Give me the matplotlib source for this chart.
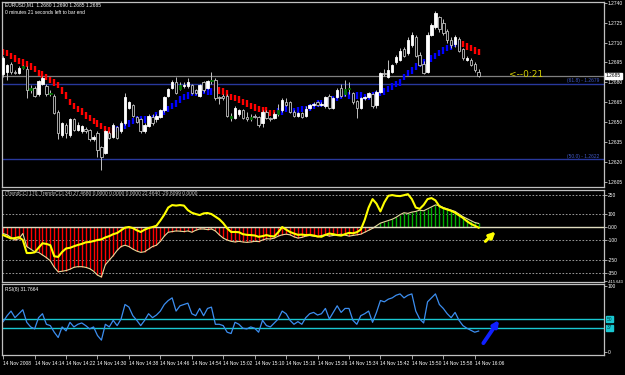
import matplotlib
matplotlib.use("Agg")
import matplotlib.pyplot as plt
import matplotlib.transforms as mtransforms
from matplotlib import font_manager

# EURUSD M1, 14 Nov 2008, one bar per minute from 14:06
opens = [1.2686, 1.2688, 1.2694, 1.2688, 1.2687, 1.2691, 1.2690, 1.2674, 1.2676, 1.2671,
         1.2679, 1.2677, 1.2671, 1.2670, 1.2658, 1.2640, 1.2648, 1.2640, 1.2652, 1.2644,
         1.2643, 1.2645, 1.2644, 1.2637, 1.2642, 1.2631, 1.2627, 1.2642, 1.2639, 1.2646,
         1.2643, 1.2649, 1.2661, 1.2663, 1.2654, 1.2652, 1.2643, 1.2647, 1.2654, 1.2652,
         1.2654, 1.2659, 1.2670, 1.2676, 1.2680, 1.2675, 1.2677, 1.2677, 1.2678, 1.2674,
         1.2670, 1.2680, 1.2676, 1.2681, 1.2682, 1.2669, 1.2670, 1.2670, 1.2655, 1.2653,
         1.2656, 1.2659, 1.2654, 1.2652, 1.2655, 1.2654, 1.2649, 1.2658, 1.2653, 1.2653,
         1.2656, 1.2659, 1.2665, 1.2665, 1.2658, 1.2655, 1.2657, 1.2655, 1.2661, 1.2663,
         1.2665, 1.2663, 1.2662, 1.2670, 1.2661, 1.2669, 1.2676, 1.2671, 1.2675, 1.2672,
         1.2666, 1.2661, 1.2668, 1.2669, 1.2671, 1.2663, 1.2673, 1.2687, 1.2684, 1.2688,
         1.2695, 1.2697, 1.2705, 1.2702, 1.2708, 1.2714, 1.2701, 1.2694, 1.2688, 1.2716,
         1.2722, 1.2729, 1.2725, 1.2719, 1.2712, 1.2709, 1.2713, 1.2705, 1.2697, 1.2697,
         1.2694, 1.2688]
highs = [1.2700, 1.2694, 1.2695, 1.2689, 1.2692, 1.2693, 1.2692, 1.2678, 1.2677, 1.2682,
         1.2685, 1.2679, 1.2674, 1.2671, 1.2659, 1.2650, 1.2649, 1.2653, 1.2653, 1.2650,
         1.2648, 1.2646, 1.2645, 1.2640, 1.2643, 1.2632, 1.2644, 1.2643, 1.2649, 1.2647,
         1.2651, 1.2672, 1.2666, 1.2664, 1.2655, 1.2653, 1.2649, 1.2656, 1.2656, 1.2656,
         1.2660, 1.2670, 1.2676, 1.2682, 1.2684, 1.2680, 1.2680, 1.2683, 1.2679, 1.2675,
         1.2679, 1.2681, 1.2682, 1.2688, 1.2683, 1.2670, 1.2671, 1.2671, 1.2657, 1.2662,
         1.2660, 1.2660, 1.2658, 1.2656, 1.2656, 1.2655, 1.2659, 1.2659, 1.2654, 1.2658,
         1.2664, 1.2668, 1.2668, 1.2666, 1.2659, 1.2658, 1.2658, 1.2662, 1.2664, 1.2665,
         1.2666, 1.2665, 1.2670, 1.2671, 1.2669, 1.2676, 1.2679, 1.2682, 1.2680, 1.2673,
         1.2667, 1.2669, 1.2670, 1.2673, 1.2672, 1.2674, 1.2688, 1.2690, 1.2697, 1.2694,
         1.2701, 1.2706, 1.2707, 1.2714, 1.2718, 1.2716, 1.2703, 1.2696, 1.2718, 1.2725,
         1.2734, 1.2730, 1.2728, 1.2720, 1.2714, 1.2716, 1.2714, 1.2706, 1.2700, 1.2698,
         1.2695, 1.2690]
lows = [1.2684, 1.2682, 1.2686, 1.2686, 1.2686, 1.2690, 1.2668, 1.2672, 1.2669, 1.2670,
        1.2678, 1.2670, 1.2670, 1.2656, 1.2637, 1.2639, 1.2638, 1.2639, 1.2643, 1.2643,
        1.2642, 1.2642, 1.2636, 1.2636, 1.2624, 1.2614, 1.2626, 1.2637, 1.2638, 1.2637,
        1.2642, 1.2648, 1.2660, 1.2654, 1.2649, 1.2642, 1.2642, 1.2646, 1.2648, 1.2650,
        1.2653, 1.2658, 1.2669, 1.2675, 1.2671, 1.2674, 1.2676, 1.2676, 1.2671, 1.2671,
        1.2669, 1.2673, 1.2675, 1.2679, 1.2667, 1.2664, 1.2667, 1.2654, 1.2651, 1.2652,
        1.2655, 1.2652, 1.2651, 1.2651, 1.2653, 1.2646, 1.2646, 1.2652, 1.2651, 1.2652,
        1.2655, 1.2658, 1.2662, 1.2657, 1.2654, 1.2654, 1.2653, 1.2654, 1.2660, 1.2662,
        1.2662, 1.2662, 1.2661, 1.2660, 1.2660, 1.2668, 1.2669, 1.2670, 1.2671, 1.2664,
        1.2653, 1.2660, 1.2667, 1.2668, 1.2661, 1.2661, 1.2672, 1.2685, 1.2683, 1.2687,
        1.2694, 1.2696, 1.2699, 1.2701, 1.2707, 1.2699, 1.2692, 1.2686, 1.2687, 1.2715,
        1.2720, 1.2718, 1.2716, 1.2710, 1.2706, 1.2707, 1.2703, 1.2697, 1.2696, 1.2692,
        1.2688, 1.2684]
closes = [1.2698, 1.2693, 1.2688, 1.2687, 1.2691, 1.2692, 1.2674, 1.2676, 1.2670, 1.2681,
          1.2683, 1.2671, 1.2672, 1.2657, 1.2642, 1.2649, 1.2642, 1.2652, 1.2644, 1.2648,
          1.2647, 1.2643, 1.2637, 1.2639, 1.2629, 1.2624, 1.2643, 1.2638, 1.2648, 1.2638,
          1.2649, 1.2669, 1.2665, 1.2655, 1.2650, 1.2643, 1.2648, 1.2655, 1.2649, 1.2655,
          1.2659, 1.2669, 1.2675, 1.2680, 1.2672, 1.2678, 1.2678, 1.2680, 1.2672, 1.2672,
          1.2678, 1.2674, 1.2681, 1.2682, 1.2668, 1.2668, 1.2668, 1.2655, 1.2653, 1.2661,
          1.2659, 1.2653, 1.2652, 1.2654, 1.2654, 1.2648, 1.2658, 1.2653, 1.2652, 1.2656,
          1.2659, 1.2667, 1.2663, 1.2658, 1.2655, 1.2657, 1.2654, 1.2660, 1.2663, 1.2664,
          1.2663, 1.2664, 1.2669, 1.2661, 1.2668, 1.2674, 1.2670, 1.2675, 1.2676, 1.2665,
          1.2661, 1.2668, 1.2669, 1.2672, 1.2662, 1.2673, 1.2687, 1.2686, 1.2689, 1.2693,
          1.2699, 1.2704, 1.2700, 1.2712, 1.2716, 1.2700, 1.2693, 1.2687, 1.2716, 1.2723,
          1.2732, 1.2720, 1.2717, 1.2712, 1.2708, 1.2714, 1.2704, 1.2698, 1.2698, 1.2693,
          1.2689, 1.2685]
green_bars = [5, 7, 12, 45, 53, 58, 63, 70, 87, 88]

# trend envelope: value per bar, runs of (length, direction)
trend = [1.2703, 1.2702, 1.2700, 1.2698, 1.2696, 1.2695, 1.2694, 1.2692, 1.2690, 1.2687,
         1.2686, 1.2684, 1.2682, 1.2680, 1.2678, 1.2674, 1.2670, 1.2665, 1.2662, 1.2660,
         1.2658, 1.2655, 1.2653, 1.2651, 1.2649, 1.2647, 1.2645, 1.2644, 1.2643,
         1.2645, 1.2646, 1.2647, 1.2649, 1.2651, 1.2652, 1.2652, 1.2652, 1.2652, 1.2653,
         1.2655, 1.2656, 1.2658, 1.2660, 1.2662, 1.2664, 1.2667, 1.2669, 1.2670, 1.2672,
         1.2672, 1.2674, 1.2674, 1.2673, 1.2673,
         1.2676, 1.2674, 1.2673, 1.2672, 1.2669, 1.2668, 1.2667, 1.2665, 1.2664, 1.2662,
         1.2661, 1.2660, 1.2659, 1.2659, 1.2657, 1.2657,
         1.2658, 1.2658, 1.2660, 1.2659, 1.2658, 1.2659, 1.2660, 1.2660, 1.2661, 1.2662,
         1.2664, 1.2664, 1.2664, 1.2666, 1.2667, 1.2668, 1.2670, 1.2671, 1.2670, 1.2669,
         1.2670, 1.2670, 1.2669, 1.2669, 1.2670, 1.2671, 1.2672, 1.2673, 1.2675, 1.2677,
         1.2679, 1.2680, 1.2684, 1.2687, 1.2689, 1.2692, 1.2694, 1.2695, 1.2697, 1.2698,
         1.2700, 1.2702, 1.2704, 1.2706, 1.2707, 1.2709, 1.2709,
         1.2709, 1.2707, 1.2706, 1.2704, 1.2703]
trend_runs = [(29, "down"), (25, "up"), (16, "down"), (47, "up"), (5, "down")]

# TrendCCI histogram and CCI line
trend_cci = [-50, -60, -80, -100, -90, -50, -150, -170, -190, -195,
             -215, -235, -260, -310, -345, -340, -335, -325, -310, -305,
             -305, -310, -320, -340, -370, -385, -290, -255, -220, -180,
             -150, -140, -150, -170, -185, -195, -190, -170, -150, -140,
             -110, -70, -40, -35, -30, -32, -35, -30, -40, -25,
             -15, -15, -20, -15, -30, -60, -85, -100, -110, -115,
             -110, -115, -118, -115, -110, -112, -100, -90, -92, -85,
             -70, -60, -55, -60, -75, -85, -80, -70, -65, -70,
             -75, -65, -60, -70, -65, -60, -55, -62, -70, -65,
             -60, -55, -40, -25, -10, 10, 30, 40, 50, 60,
             75, 95, 110, 105, 115, 120, 130, 125, 140, 155,
             170, 165, 150, 140, 130, 120, 100, 80, 65, 50,
             35, 27.5]
cci = [-62, -75, -88, -85, -78, -100, -200, -200, -195, -160,
       -125, -130, -140, -225, -230, -192, -165, -160, -148, -138,
       -130, -118, -115, -108, -100, -95, -80, -70, -55, -46,
       -25, -5, 0, -8, -25, -38, -20, -8, 0, 10,
       50, 95, 150, 169, 165, 169, 165, 130, 110, 100,
       92, 105, 108, 100, 80, 60, 30, -10, -38, -38,
       -40, -55, -60, -62, -65, -75, -70, -62, -70, -72,
       -40, 0, -20, -38, -50, -60, -58, -62, -60, -65,
       -72, -75, -60, -50, -55, -62, -66, -55, -45, -48,
       -40, -20, 54, 150, 215, 180, 120, 190, 240, 246,
       240, 238, 245, 253, 215, 150, 140, 170, 215, 223,
       205, 160, 145, 135, 125, 110, 90, 70, 45, 25,
       10, -5]
cci_levels = [250, 100, 0, -100, -250, -350]

rsi = [46, 55, 62, 52, 58, 64, 45, 38, 35, 52,
       58, 42, 40, 30, 22, 38, 32, 45, 38, 42,
       44, 40, 35, 38, 25, 18, 42, 38, 48, 40,
       50, 72, 68, 55, 48, 40, 48, 58, 52, 56,
       62, 72, 78, 82, 62, 70, 72, 74, 58, 55,
       66, 55, 66, 68, 42, 42, 40, 30, 28, 45,
       42, 36, 35, 38, 36, 30, 48, 40, 38, 44,
       50, 62, 58, 48, 42, 46, 42, 52, 58, 60,
       56, 58, 66, 50, 60, 70, 60, 66, 66, 48,
       42, 55, 58, 62, 45, 60, 78, 76, 80, 82,
       86, 88, 82, 86, 88, 62, 50, 44, 76, 82,
       88, 72, 66, 58, 52, 60, 48, 40, 36, 33,
       30, 31.77]
rsi_levels = [50, 37]

price_ticks = [1.2740, 1.2725, 1.2710, 1.2695, 1.2680, 1.2665, 1.2650, 1.2635, 1.2620, 1.2605]
bid = 1.2685
fibo = [(61.8, 1.2679), (50.0, 1.2622)]
time_ticks = list(range(0, 121, 8))
time_labels = ["14 Nov 2008", "14 Nov 14:14", "14 Nov 14:22", "14 Nov 14:30", "14 Nov 14:38",
               "14 Nov 14:46", "14 Nov 14:54", "14 Nov 15:02", "14 Nov 15:10", "14 Nov 15:18",
               "14 Nov 15:26", "14 Nov 15:34", "14 Nov 15:42", "14 Nov 15:50", "14 Nov 15:58",
               "14 Nov 16:06"]

names = {f.name for f in font_manager.fontManager.ttflist}
small = "Liberation Sans Narrow" if "Liberation Sans Narrow" in names else "Liberation Sans"
plt.rcParams["font.family"] = [small, "DejaVu Sans"]

GRID = "#c0c0c0"
FS = 3.5
XLIM = (-0.3, 152.9)
x = list(range(len(closes)))

fig = plt.figure(figsize=(6.25, 3.75), dpi=100, facecolor="black")
L, W = 2 / 625, 602 / 625
ax1 = fig.add_axes([L, 1 - 187 / 375, W, 185 / 375])
ax2 = fig.add_axes([L, 1 - 282 / 375, W, 92 / 375])
ax3 = fig.add_axes([L, 1 - 355 / 375, W, 71 / 375])

for ax in (ax1, ax2, ax3):
    ax.set_facecolor("black")
    ax.set_xlim(*XLIM)
    for s in ax.spines.values():
        s.set_color(GRID)
        s.set_linewidth(0.9)
    ax.yaxis.tick_right()
    ax.tick_params(axis="y", colors=GRID, labelcolor="white", labelsize=FS, length=2, pad=0.8, width=0.6)
    ax.tick_params(axis="x", bottom=False, labelbottom=False)

# ---- price panel
ax1.set_ylim(1.26011, 1.27406)
trend_colors = []
for n, d in trend_runs:
    trend_colors += [("#ff0000" if d == "down" else "#0000ff")] * n
ax1.vlines(x, [t - 0.00024 for t in trend], [t + 0.00024 for t in trend],
           colors=trend_colors, lw=1.7, zorder=1)

ax1.vlines(x, lows, highs, colors=GRID, lw=0.7, zorder=2)
for i in x:
    o, c = opens[i], closes[i]
    if i in green_bars:
        face, edge = "#007000", "#007000"
    elif c >= o:
        face, edge = "white", "white"
    else:
        face, edge = "black", GRID
    ax1.bar(i, max(abs(c - o), 0.00002), bottom=min(o, c), width=0.62,
            color=face, edgecolor=edge, linewidth=0.6, zorder=3)

ax1.axhline(bid, color="#808080", lw=0.9, zorder=0)
for lvl, val in fibo:
    ax1.axhline(val, color="#28389c", lw=1.0, zorder=0)
    ax1.text(151.6, val + 0.00004, f"({lvl:.1f}) - {val:.4f}", color="#4058c8",
             fontsize=FS, ha="right", va="bottom")

ax1.set_yticks(price_ticks)
ax1.set_yticklabels([f"{p:.4f}" for p in price_ticks])
tr1 = mtransforms.blended_transform_factory(ax1.transAxes, ax1.transData)
ax1.text(1.003, bid, f"{bid:.4f}", transform=tr1, fontsize=FS, color="black", ha="left", va="center",
         bbox=dict(facecolor="white", edgecolor="white", pad=0.5))
ax1.text(128.8, 1.2686, "<--0:21", color="#d4d000", fontsize=6.5, va="center", family="DejaVu Sans")

fig.text(5 / 625, 1 - 5 / 375, "EURUSD,M1  1.2680 1.2690 1.2685 1.2685", color="white", fontsize=FS, va="center")
fig.text(5 / 625, 1 - 12 / 375, "0 minutes 21 seconds left to bar end", color="white", fontsize=FS, va="center")

# ---- CCI panel
ax2.set_ylim(-423, 285)
for lv in cci_levels:
    ax2.axhline(lv, color="#b0b0b0", lw=0.6, ls=(0, (2, 2)), zorder=0)
hist_colors = ["#00b000" if v > 0 else "#ff0000" for v in trend_cci]
ax2.vlines(x, 0, trend_cci, colors=hist_colors, lw=1.0, zorder=1)
ax2.plot(x, trend_cci, color="#e6dc9c", lw=0.8, zorder=2)
ax2.axhline(0, color="#e0dcc0", lw=1.0, zorder=2)
ax2.plot(x, cci, color="#ffff00", lw=1.5, zorder=3)
cci_ticks = cci_levels + [-415.643]
ax2.set_yticks(cci_ticks)
ax2.set_yticklabels(["250", "100", "0.00", "-100", "-250", "-350", "-415.643"])
ax2.get_yticklabels()[-1].set_fontsize(FS - 0.6)
ax2.annotate("", xy=(125.8, -20), xytext=(122.2, -125),
             arrowprops=dict(arrowstyle="-|>", color="#ffff00", lw=2.2, mutation_scale=9))
fig.text(5 / 625, 1 - 194 / 375,
         "(TrendCCI 170, TrendyCCI 34) 27.4680 0.0000 0.0000 0.0000 22.4640 -29.8099 0.0000",
         color="#c0c0c0", fontsize=FS, va="center")

# ---- RSI panel
ax3.set_ylim(-4.5, 103)
for lv in rsi_levels:
    ax3.axhline(lv, color="#19c8d2", lw=1.0, zorder=0)
ax3.plot(x, rsi, color="#3c8ef0", lw=0.9, zorder=2)
ax3.set_yticks([100, 0])
ax3.set_yticklabels(["100", "0"])
tr3 = mtransforms.blended_transform_factory(ax3.transAxes, ax3.transData)
for lv in rsi_levels:
    ax3.text(1.005, lv, f"{lv}", transform=tr3, fontsize=FS, color="#004040", ha="left", va="center",
             bbox=dict(facecolor="#19c8d2", edgecolor="#19c8d2", pad=0.4))
ax3.annotate("", xy=(126.6, 52), xytext=(121.8, 10),
             arrowprops=dict(arrowstyle="-|>", color="#1020ff", lw=2.8, mutation_scale=8))
fig.text(5 / 625, 1 - 289 / 375, "RSI(8) 31.7664", color="white", fontsize=FS, va="center")

ax3.tick_params(axis="x", bottom=True, labelbottom=True, colors=GRID, labelcolor="white",
                labelsize=FS, length=3, width=0.6, pad=1)
ax3.set_xticks(time_ticks)
ax3.set_xticklabels(time_labels)
for lbl in ax3.get_xticklabels():
    lbl.set_horizontalalignment("left")

fig.savefig("out.png", dpi=100, facecolor="black")
